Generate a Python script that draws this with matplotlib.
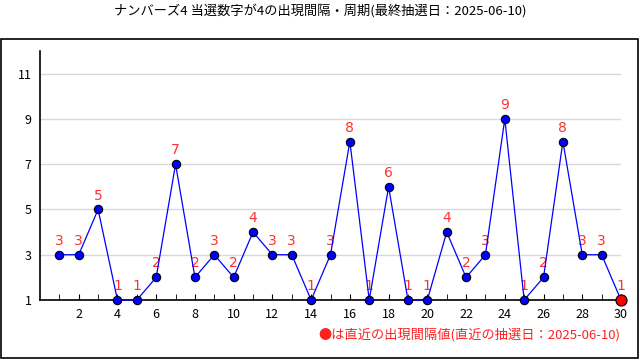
import matplotlib
matplotlib.use('Agg')
import matplotlib.pyplot as plt
from matplotlib.patches import Rectangle

plt.rcParams['font.family'] = ['Noto Sans CJK JP', 'DejaVu Sans']

# 出現間隔データ
draws = list(range(1, 31))
gaps = [3, 3, 5, 1, 1, 2, 7, 2, 3, 2, 4, 3, 3, 1, 3, 8, 1, 6, 1, 1,
        4, 2, 3, 9, 1, 2, 8, 3, 3, 1]
yticks = [1, 3, 5, 7, 9, 11]
xticks = list(range(2, 31, 2))

title = 'ナンバーズ4 当選数字が4の出現間隔・周期(最終抽選日：2025-06-10)'
note = '●は直近の出現間隔値(直近の抽選日：2025-06-10)'

fig = plt.figure(figsize=(6.4, 3.6), dpi=100)
ax = fig.add_axes([40 / 640, 60 / 360, 581 / 640, 249 / 360])

# frame around the chart area
fig.patches.append(Rectangle((0.5 / 640, 2 / 360), 637 / 640, 319 / 360,
                             transform=fig.transFigure, fill=False,
                             edgecolor='black', linewidth=1.2))

ax.plot(draws, gaps, color='blue', linewidth=0.9, marker='o',
        markersize=6, markerfacecolor='blue', markeredgecolor='black',
        markeredgewidth=0.8, zorder=6, clip_on=False)
ax.plot(draws[-1], gaps[-1], marker='o', markersize=8, color='red',
        markeredgecolor='black', markeredgewidth=0.8, zorder=7,
        clip_on=False)

for x, y in zip(draws, gaps):
    ax.annotate(str(y), (x, y), xytext=(0, 5), textcoords='offset points',
                ha='center', va='bottom', color='#ff3030', fontsize=10,
                family=['DejaVu Sans'])

ax.set_xlim(0, 30)
ax.set_ylim(1, 12)
ax.set_yticks(yticks)
ax.set_xticks(xticks)
ax.set_xticks(draws, minor=True)
ax.tick_params(axis='y', length=0, labelsize=9, pad=6)
ax.tick_params(axis='x', which='both', direction='in', length=4,
               labelsize=9, pad=6)
ax.grid(axis='y', color='#d8d8d8', linewidth=1)
ax.set_axisbelow(True)
for s in ['top', 'right']:
    ax.spines[s].set_visible(False)
ax.spines['left'].set_linewidth(1.2)
ax.spines['bottom'].set_linewidth(1.2)
ax.spines['left'].set_zorder(5)
ax.spines['bottom'].set_zorder(5)

fig.text(0.5, 1 - 11 / 360, title, ha='center', va='center', fontsize=9.5)
fig.text(620 / 640, 1 - 335 / 360, note, ha='right', va='center',
         fontsize=9.5, color='#ff2020')

fig.savefig('out.png', dpi=100)
